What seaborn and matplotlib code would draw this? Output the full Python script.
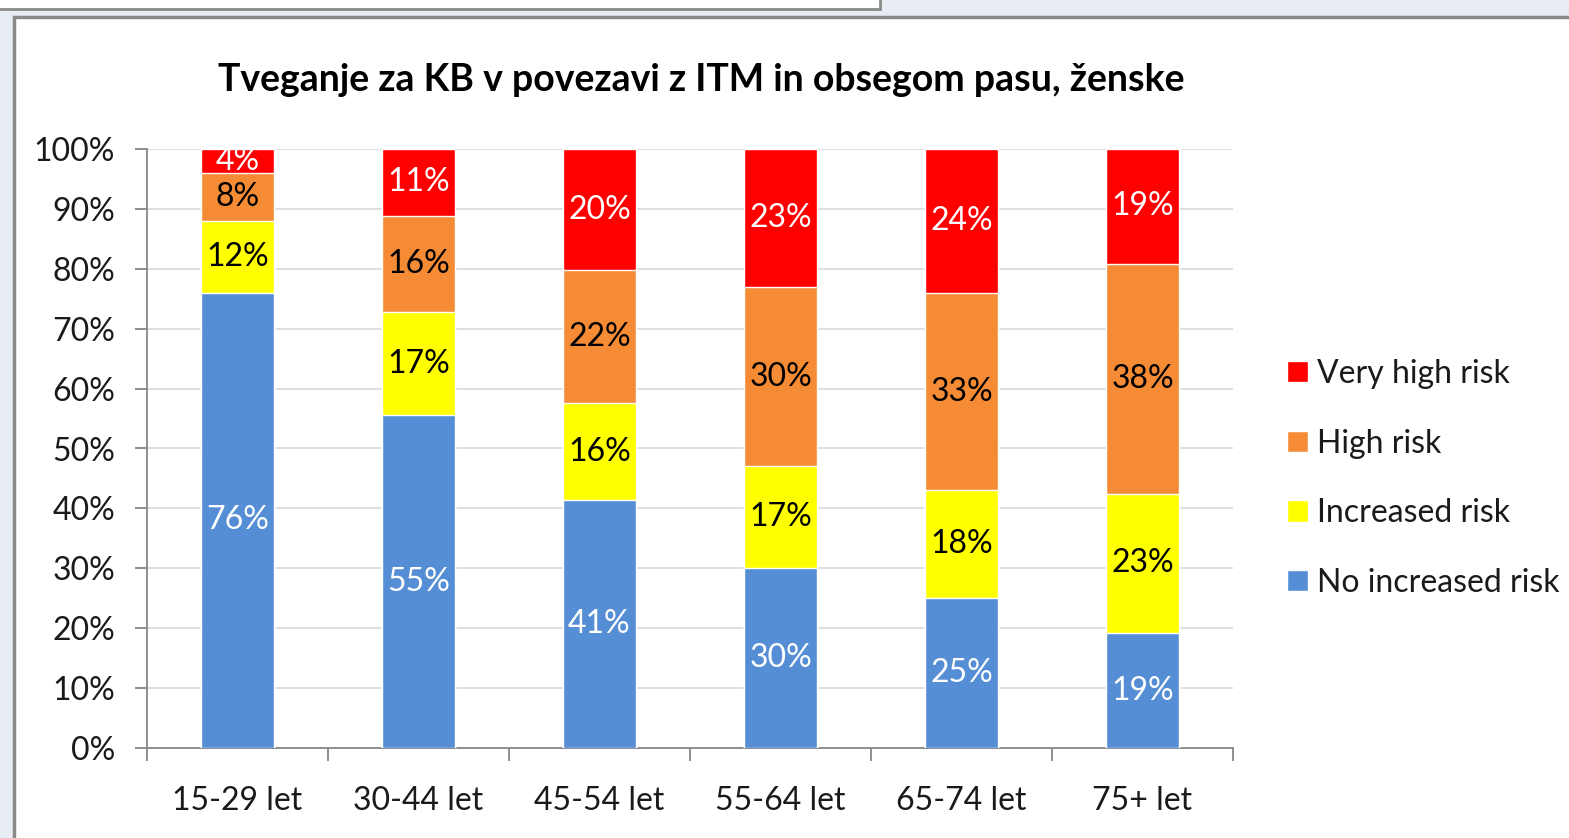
import matplotlib
matplotlib.use("Agg")
import matplotlib.pyplot as plt
from matplotlib.patches import Rectangle
from matplotlib.ticker import FixedLocator, FuncFormatter
import numpy as np
import seaborn as sns

categories = ["15-29 let", "30-44 let", "45-54 let", "55-64 let", "65-74 let", "75+ let"]
no_increased = [76, 55, 41, 30, 25, 19]
increased = [12, 17, 16, 17, 18, 23]
high = [8, 16, 22, 30, 33, 38]
very_high = [4, 11, 20, 23, 24, 19]
series_names = ["No increased risk", "Increased risk", "High risk", "Very high risk"]
title = "Tveganje za KB v povezavi z ITM in obsegom pasu, ženske"

colors = ["#558ED5", "#FFFF00", "#F68B35", "#FF0000"]
label_colors = ["white", "black", "black", "white"]

sns.set_theme(style="white")
plt.rcParams["font.family"] = ["Lato", "DejaVu Sans"]

FS = 23

fig = plt.figure(figsize=(15.69, 8.38), dpi=100)
fig.patch.set_facecolor("#e8ecf3")
# screenshot frame
fig.patches.append(Rectangle((14/1569, -0.01), 1.0, (838-17)/838 + 0.01, transform=fig.transFigure,
                             facecolor="white", edgecolor="#8a8a8a", linewidth=2.5, zorder=-10))
fig.patches.append(Rectangle((-0.01, (838-9)/838), (880/1569) + 0.01, 0.02, transform=fig.transFigure,
                             facecolor="white", edgecolor="#8a8a8a", linewidth=2.0, zorder=-10))

ax = fig.add_axes([147/1569, 90/838, (1233-147)/1569, (748-149)/838])
ax.set_facecolor("white")

data = np.array([no_increased, increased, high, very_high], dtype=float)
shares = data / data.sum(axis=0) * 100
cum = np.cumsum(shares, axis=0)

# draw from top-most cumulative down so lower segments overlay
for i in range(3, -1, -1):
    sns.barplot(x=categories, y=cum[i], color=colors[i], width=0.4, ax=ax,
                label=series_names[i], saturation=1, zorder=3)

# labels
for i in range(4):
    for j in range(len(categories)):
        bottom = cum[i - 1][j] if i > 0 else 0
        mid = bottom + shares[i][j] / 2
        ax.text(j, mid, f"{int(data[i][j])}%", ha="center", va="center",
                color=label_colors[i], fontsize=FS, zorder=5)

ax.set_ylim(0, 100)
ax.set_xlim(-0.5, len(categories) - 0.5)
ax.yaxis.set_major_locator(FixedLocator(np.arange(0, 101, 10)))
ax.yaxis.set_major_formatter(FuncFormatter(lambda v, p: f"{int(v)}%"))
ax.yaxis.grid(True, color="#d9d9d9", linewidth=1.2, zorder=0)
ax.set_axisbelow(True)

ax.xaxis.set_minor_locator(FixedLocator(np.arange(-0.5, len(categories), 1.0)))
ax.tick_params(axis="x", which="major", length=0, pad=27, labelsize=FS, labelcolor="#1a1a1a")
ax.tick_params(axis="x", which="minor", length=9, width=1.3, color="#868686", direction="out")
ax.tick_params(axis="y", which="major", length=9, width=1.3, color="#868686", direction="out",
               pad=14, labelsize=FS, labelcolor="#1a1a1a")
ax.tick_params(left=True, bottom=True, which="both")

for s in ["top", "right"]:
    ax.spines[s].set_visible(False)
for s in ["left", "bottom"]:
    ax.spines[s].set_color("#868686")
    ax.spines[s].set_linewidth(1.3)
ax.set_xlabel("")
ax.set_ylabel("")

ax.set_title(title, fontsize=27, fontweight="bold", color="black", pad=42, x=0.51)

handles, labels = ax.get_legend_handles_labels()
leg = ax.legend(handles, labels, loc="center left", bbox_to_anchor=(1.038, 0.45),
                frameon=False, fontsize=FS, handlelength=0.65, handleheight=0.65,
                handletextpad=0.3, labelspacing=1.24, borderaxespad=0)
for t in leg.get_texts():
    t.set_color("#1a1a1a")

fig.savefig("out.png", dpi=100, facecolor=fig.get_facecolor())
